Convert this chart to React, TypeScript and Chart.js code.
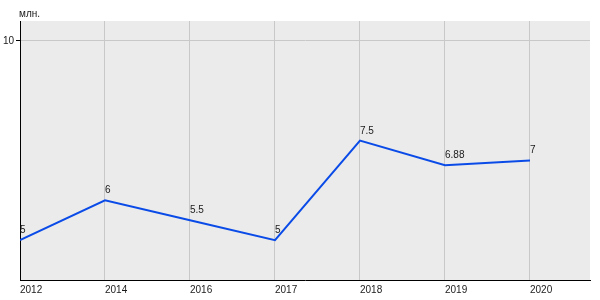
import React, { useEffect, useRef } from "react";
import { Chart, registerables } from "chart.js";

Chart.register(...registerables);

const years = ["2012", "2014", "2016", "2017", "2018", "2019", "2020"];
const values = [5, 6, 5.5, 5, 7.5, 6.88, 7];
const valueLabels = ["5", "6", "5.5", "5", "7.5", "6.88", "7"];
const yTickValues = [10];
const unitLabel = "млн.";

const FONT = "'Liberation Sans', Arial, sans-serif";
const FS = 10;

export default function App() {
  const ref = useRef<HTMLCanvasElement | null>(null);

  useEffect(() => {
    document.body.style.margin = "0";
    const canvas = ref.current;
    if (!canvas) return;

    const bgPlugin = {
      id: "plotBg",
      beforeDraw(chart: any) {
        const { ctx, chartArea } = chart;
        ctx.save();
        ctx.fillStyle = "#ebebeb";
        ctx.fillRect(chartArea.left, chartArea.top, chartArea.right - chartArea.left, chartArea.bottom - chartArea.top);
        ctx.restore();
      },
    };

    const labelPlugin = {
      id: "valueLabels",
      afterDatasetsDraw(chart: any) {
        const { ctx } = chart;
        const meta = chart.getDatasetMeta(0);
        ctx.save();
        ctx.font = `${FS}px ${FONT}`;
        ctx.fillStyle = "#1a1a1a";
        ctx.textAlign = "left";
        ctx.textBaseline = "alphabetic";
        meta.data.forEach((pt: any, i: number) => {
          ctx.fillText(valueLabels[i], pt.x, pt.y - 7);
        });
        ctx.fillText(unitLabel, chart.chartArea.left - 1, 17);
        ctx.restore();
      },
    };

    const chart = new Chart(canvas, {
      type: "line",
      data: {
        datasets: [
          {
            data: values.map((v, i) => ({ x: i, y: v })),
            borderColor: "#0a4be8",
            borderWidth: 2,
            pointRadius: 0,
            tension: 0,
            fill: false,
          },
        ],
      },
      options: {
        responsive: false,
        animation: false,
        devicePixelRatio: 1,
        layout: { padding: { top: 21, right: 10, left: 0, bottom: 0 } },
        plugins: {
          legend: { display: false },
          tooltip: { enabled: false },
        },
        scales: {
          x: {
            type: "linear",
            min: 0,
            max: 6.706,
            afterBuildTicks(scale: any) {
              scale.ticks = years.map((_, i) => ({ value: i }));
            },
            afterFit(scale: any) {
              scale.height = 20;
            },
            ticks: {
              align: "start",
              padding: 4,
              maxRotation: 0,
              autoSkip: false,
              color: "#1a1a1a",
              font: { family: FONT, size: FS },
              callback: (v: any) => years[v] ?? "",
            },
            grid: { color: "#c8c8c8", drawTicks: false, lineWidth: 1 },
            border: { display: true, color: "#000", width: 1 },
          },
          y: {
            type: "linear",
            min: 4,
            max: 10.5,
            afterBuildTicks(scale: any) {
              scale.ticks = yTickValues.map((v) => ({ value: v }));
            },
            afterFit(scale: any) {
              scale.width = 20;
            },
            ticks: {
              padding: 2,
              color: "#1a1a1a",
              font: { family: FONT, size: FS },
              callback: (v: any) => String(v),
            },
            grid: { color: "#c8c8c8", tickColor: "#000", tickLength: 4, lineWidth: 1 },
            border: { display: true, color: "#000", width: 1 },
          },
        },
      },
      plugins: [bgPlugin, labelPlugin],
    } as any);

    return () => chart.destroy();
  }, []);

  return (
    <div style={{ position: "absolute", left: 0, top: 0, width: 600, height: 300, background: "#fff" }}>
      <canvas ref={ref} width={600} height={300} style={{ display: "block" }} />
    </div>
  );
}
